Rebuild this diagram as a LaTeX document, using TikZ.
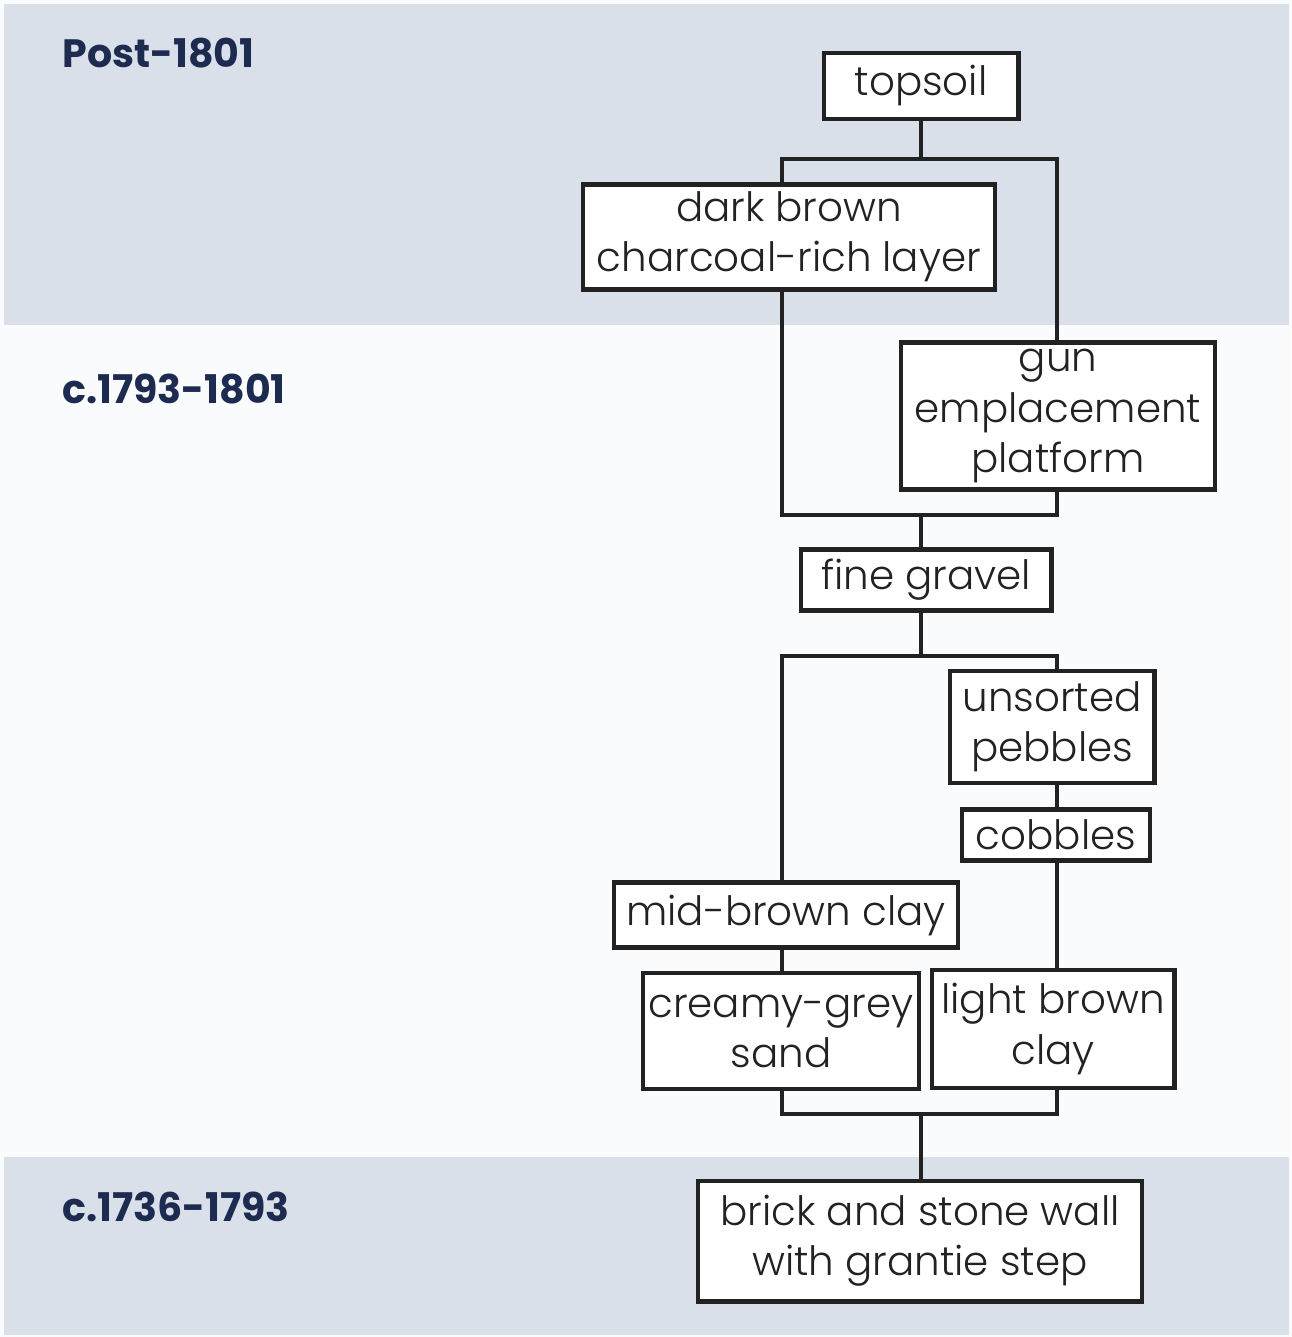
\documentclass[tikz,border=0pt]{standalone}
\usepackage{fontspec}
\setmainfont{Poppins}
\newfontfamily\capafont{Poppins Light}
\usepackage{xcolor}
\usepackage{tikz}
\usetikzlibrary{positioning, calc}
\definecolor{franja}{HTML}{D9E0EA}
\definecolor{fondo}{HTML}{FAFBFC}
\definecolor{marino}{HTML}{1E2B50}
\definecolor{tinta}{HTML}{222222}
\tikzset{
  capa/.style={rectangle, draw=tinta, line width=2.3pt, fill=white,
    inner sep=0pt, align=center, text=tinta,
    font=\capafont\fontsize{23}{28.5}\selectfont},
  periodo/.style={anchor=west, inner sep=0pt, text=marino,
    font=\fontsize{22.5}{27}\selectfont\bfseries},
  linea/.style={tinta, line width=2.3pt}
}

\begin{document}
\begin{tikzpicture}[x=0.02cm, y=-0.02cm]

  % --- Fondo y franjas ---
  \useasboundingbox (0,0) rectangle (1291,1337);
  \fill[fondo] (0,0) rectangle (1291,1337);
  \fill[franja] (4,4) rectangle (1289,325);
  \fill[franja] (4,1157) rectangle (1289,1335);

  % --- Periodos ---
  \foreach \y/\periodo in {53/Post-1801, 389/c.1793-1801, 1207/c.1736-1793} {
    \node[periodo] (per-\y) at (62,\y) {\periodo};
  }

  % --- Capas ---
  \node[capa, minimum width=3.9cm,  minimum height=1.32cm] (topsoil)  at (921,86)   {topsoil};
  \node[capa, minimum width=8.24cm, minimum height=2.1cm]  (carbon)   at (789,237)  {dark brown\\charcoal-rich layer};
  \node[capa, minimum width=6.28cm, minimum height=2.94cm] (canon)    at (1058,416) {gun\\emplacement\\platform};
  \node[capa, minimum width=5.02cm, minimum height=1.22cm] (grava)    at (926,580)  {fine gravel};
  \node[capa, minimum width=4.1cm,  minimum height=2.24cm] (guijarro) at (1052,727) {unsorted\\pebbles};
  \node[capa, minimum width=3.76cm, minimum height=1.02cm] (canto)    at (1056,835) {cobbles};
  \node[capa, minimum width=6.88cm, minimum height=1.3cm]  (arcilla)  at (786,915)  {mid-brown clay};
  \node[capa, minimum width=5.52cm, minimum height=2.32cm] (arena)    at (781,1031) {creamy-grey\\sand};
  \node[capa, minimum width=4.86cm, minimum height=2.36cm] (arcclara) at (1053,1029) {light brown\\clay};
  \node[capa, minimum width=8.9cm,  minimum height=2.42cm] (muro)     at (920,1241) {brick and stone wall\\with grantie step};

  % --- Rieles ---
  \coordinate (r1i) at (782,159);  \coordinate (r1d) at (1057,159);
  \coordinate (r2i) at (782,515);  \coordinate (r2d) at (1057,515);
  \coordinate (r3i) at (782,656);  \coordinate (r3d) at (1057,656);
  \coordinate (r4i) at (782,1114); \coordinate (r4d) at (1057,1114);

  % --- Conexiones ---
  \draw[linea] (topsoil.south) -- (topsoil.south |- r1i);
  \draw[linea] (carbon.north -| r1i) -- (r1i) -- (r1d) -- (canon.north -| r1d);

  \draw[linea] (carbon.south -| r2i) -- (r2i) -- (r2d) -- (canon.south -| r2d);
  \draw[linea] (grava.north -| topsoil.south) -- (r2i -| topsoil.south);

  \draw[linea] (grava.south -| topsoil.south) -- (r3i -| topsoil.south);
  \draw[linea] (arcilla.north -| r3i) -- (r3i) -- (r3d) -- (guijarro.north -| r3d);

  \draw[linea] (guijarro.south -| r3d) -- (canto.north -| r3d);
  \draw[linea] (canto.south -| r3d) -- (arcclara.north -| r3d);
  \draw[linea] (arcilla.south -| r3i) -- (arena.north -| r3i);

  \draw[linea] (arena.south -| r4i) -- (r4i) -- (r4d) -- (arcclara.south -| r4d);
  \draw[linea] (muro.north -| topsoil.south) -- (r4i -| topsoil.south);

\end{tikzpicture}
\end{document}
